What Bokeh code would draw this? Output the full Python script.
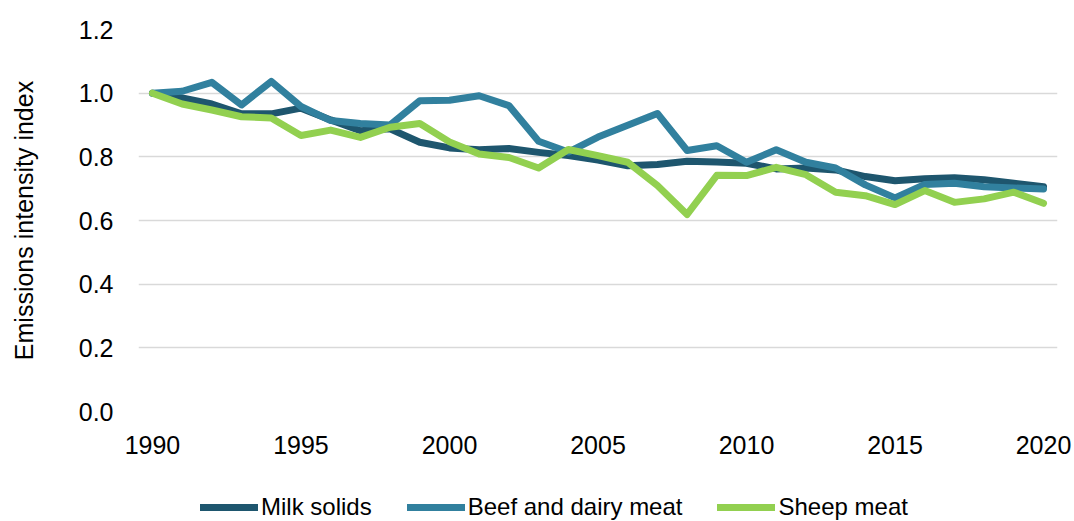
from bokeh.plotting import figure
from bokeh.layouts import column
from bokeh.models import Range1d, FixedTicker, NumeralTickFormatter, Legend, LegendItem
from bokeh.embed import file_html
from bokeh.resources import INLINE

years = list(range(1990, 2021))
milk_solids = [1.000, 0.985, 0.966, 0.935, 0.935, 0.953, 0.916, 0.882, 0.888, 0.846,
               0.828, 0.822, 0.826, 0.814, 0.804, 0.790, 0.772, 0.776, 0.786, 0.784,
               0.780, 0.762, 0.765, 0.759, 0.738, 0.725, 0.731, 0.734, 0.728, 0.717, 0.706]
beef_dairy_meat = [1.000, 1.006, 1.034, 0.963, 1.037, 0.958, 0.914, 0.905, 0.900, 0.976,
                   0.978, 0.992, 0.961, 0.849, 0.815, 0.862, 0.899, 0.936, 0.820, 0.835,
                   0.783, 0.822, 0.783, 0.765, 0.712, 0.671, 0.713, 0.717, 0.706, 0.702, 0.699]
sheep_meat = [1.000, 0.966, 0.947, 0.926, 0.922, 0.867, 0.884, 0.861, 0.893, 0.905,
              0.847, 0.809, 0.798, 0.765, 0.823, 0.804, 0.783, 0.710, 0.619, 0.742,
              0.741, 0.767, 0.744, 0.689, 0.678, 0.650, 0.694, 0.657, 0.668, 0.689, 0.654]

series_names = ["Milk solids", "Beef and dairy meat", "Sheep meat"]
series_colors = ["#1e566e", "#31809e", "#92d050"]
x_ticks = [1990, 1995, 2000, 2005, 2010, 2015, 2020]
y_ticks = [0.0, 0.2, 0.4, 0.6, 0.8, 1.0, 1.2]
y_label = "Emissions intensity index"

FONT = "Liberation Sans"
series = [milk_solids, beef_dairy_meat, sheep_meat]

p = figure(width=1074, height=478, output_backend="svg", toolbar_location=None,
           x_range=Range1d(1989.53, 2020.47), y_range=Range1d(0, 1.2),
           min_border_left=138, min_border_right=17, min_border_top=29, min_border_bottom=67,
           title=None)
p.outline_line_color = None
p.background_fill_color = "white"
p.border_fill_color = "white"

p.xgrid.grid_line_color = None
p.ygrid.grid_line_color = "#d9d9d9"
p.ygrid.grid_line_width = 1.5
p.ygrid.ticker = FixedTicker(ticks=y_ticks)

p.xaxis.ticker = FixedTicker(ticks=x_ticks)
p.yaxis.ticker = FixedTicker(ticks=y_ticks)
p.yaxis.formatter = NumeralTickFormatter(format="0.0")
for ax in (p.xaxis, p.yaxis):
    ax.axis_line_color = None
    ax.major_tick_line_color = None
    ax.minor_tick_line_color = None
    ax.major_tick_out = 0
    ax.major_tick_in = 0
    ax.major_label_text_font = FONT
    ax.major_label_text_font_size = "25px"
    ax.major_label_text_color = "#000000"
p.xaxis.major_label_standoff = 24
p.yaxis.major_label_standoff = 25
p.yaxis.axis_label = y_label
p.yaxis.axis_label_text_font = FONT
p.yaxis.axis_label_text_font_size = "25px"
p.yaxis.axis_label_text_font_style = "normal"
p.yaxis.axis_label_text_color = "#000000"
p.yaxis.axis_label_standoff = 38

for vals, col in zip(series, series_colors):
    p.line(years, vals, line_color=col, line_width=7, line_cap="round", line_join="round")

# Legend strip below the chart (its series lie outside its view range, so only the legend shows)
lg = figure(width=1074, height=43, output_backend="svg", toolbar_location=None,
            x_range=Range1d(0, 1), y_range=Range1d(0, 1),
            x_axis_location=None, y_axis_location=None,
            min_border_left=0, min_border_right=0, min_border_top=0, min_border_bottom=0,
            title=None)
lg.outline_line_color = None
lg.xgrid.visible = False
lg.ygrid.visible = False
items = []
for name, vals, col in zip(series_names, series, series_colors):
    r = lg.line(years, vals, line_color=col, line_width=7, line_cap="round")
    items.append(LegendItem(label=name, renderers=[r]))
legend = Legend(items=items, orientation="horizontal", location=(62, 0),
                glyph_width=58, glyph_height=20, label_standoff=3, spacing=35,
                padding=0, margin=0, border_line_color=None, background_fill_alpha=0,
                label_text_font=FONT, label_text_font_size="24px", label_text_color="#000000")
lg.add_layout(legend, "center")

layout = column(p, lg, spacing=0)
open("out.html", "w").write(file_html(layout, INLINE))
